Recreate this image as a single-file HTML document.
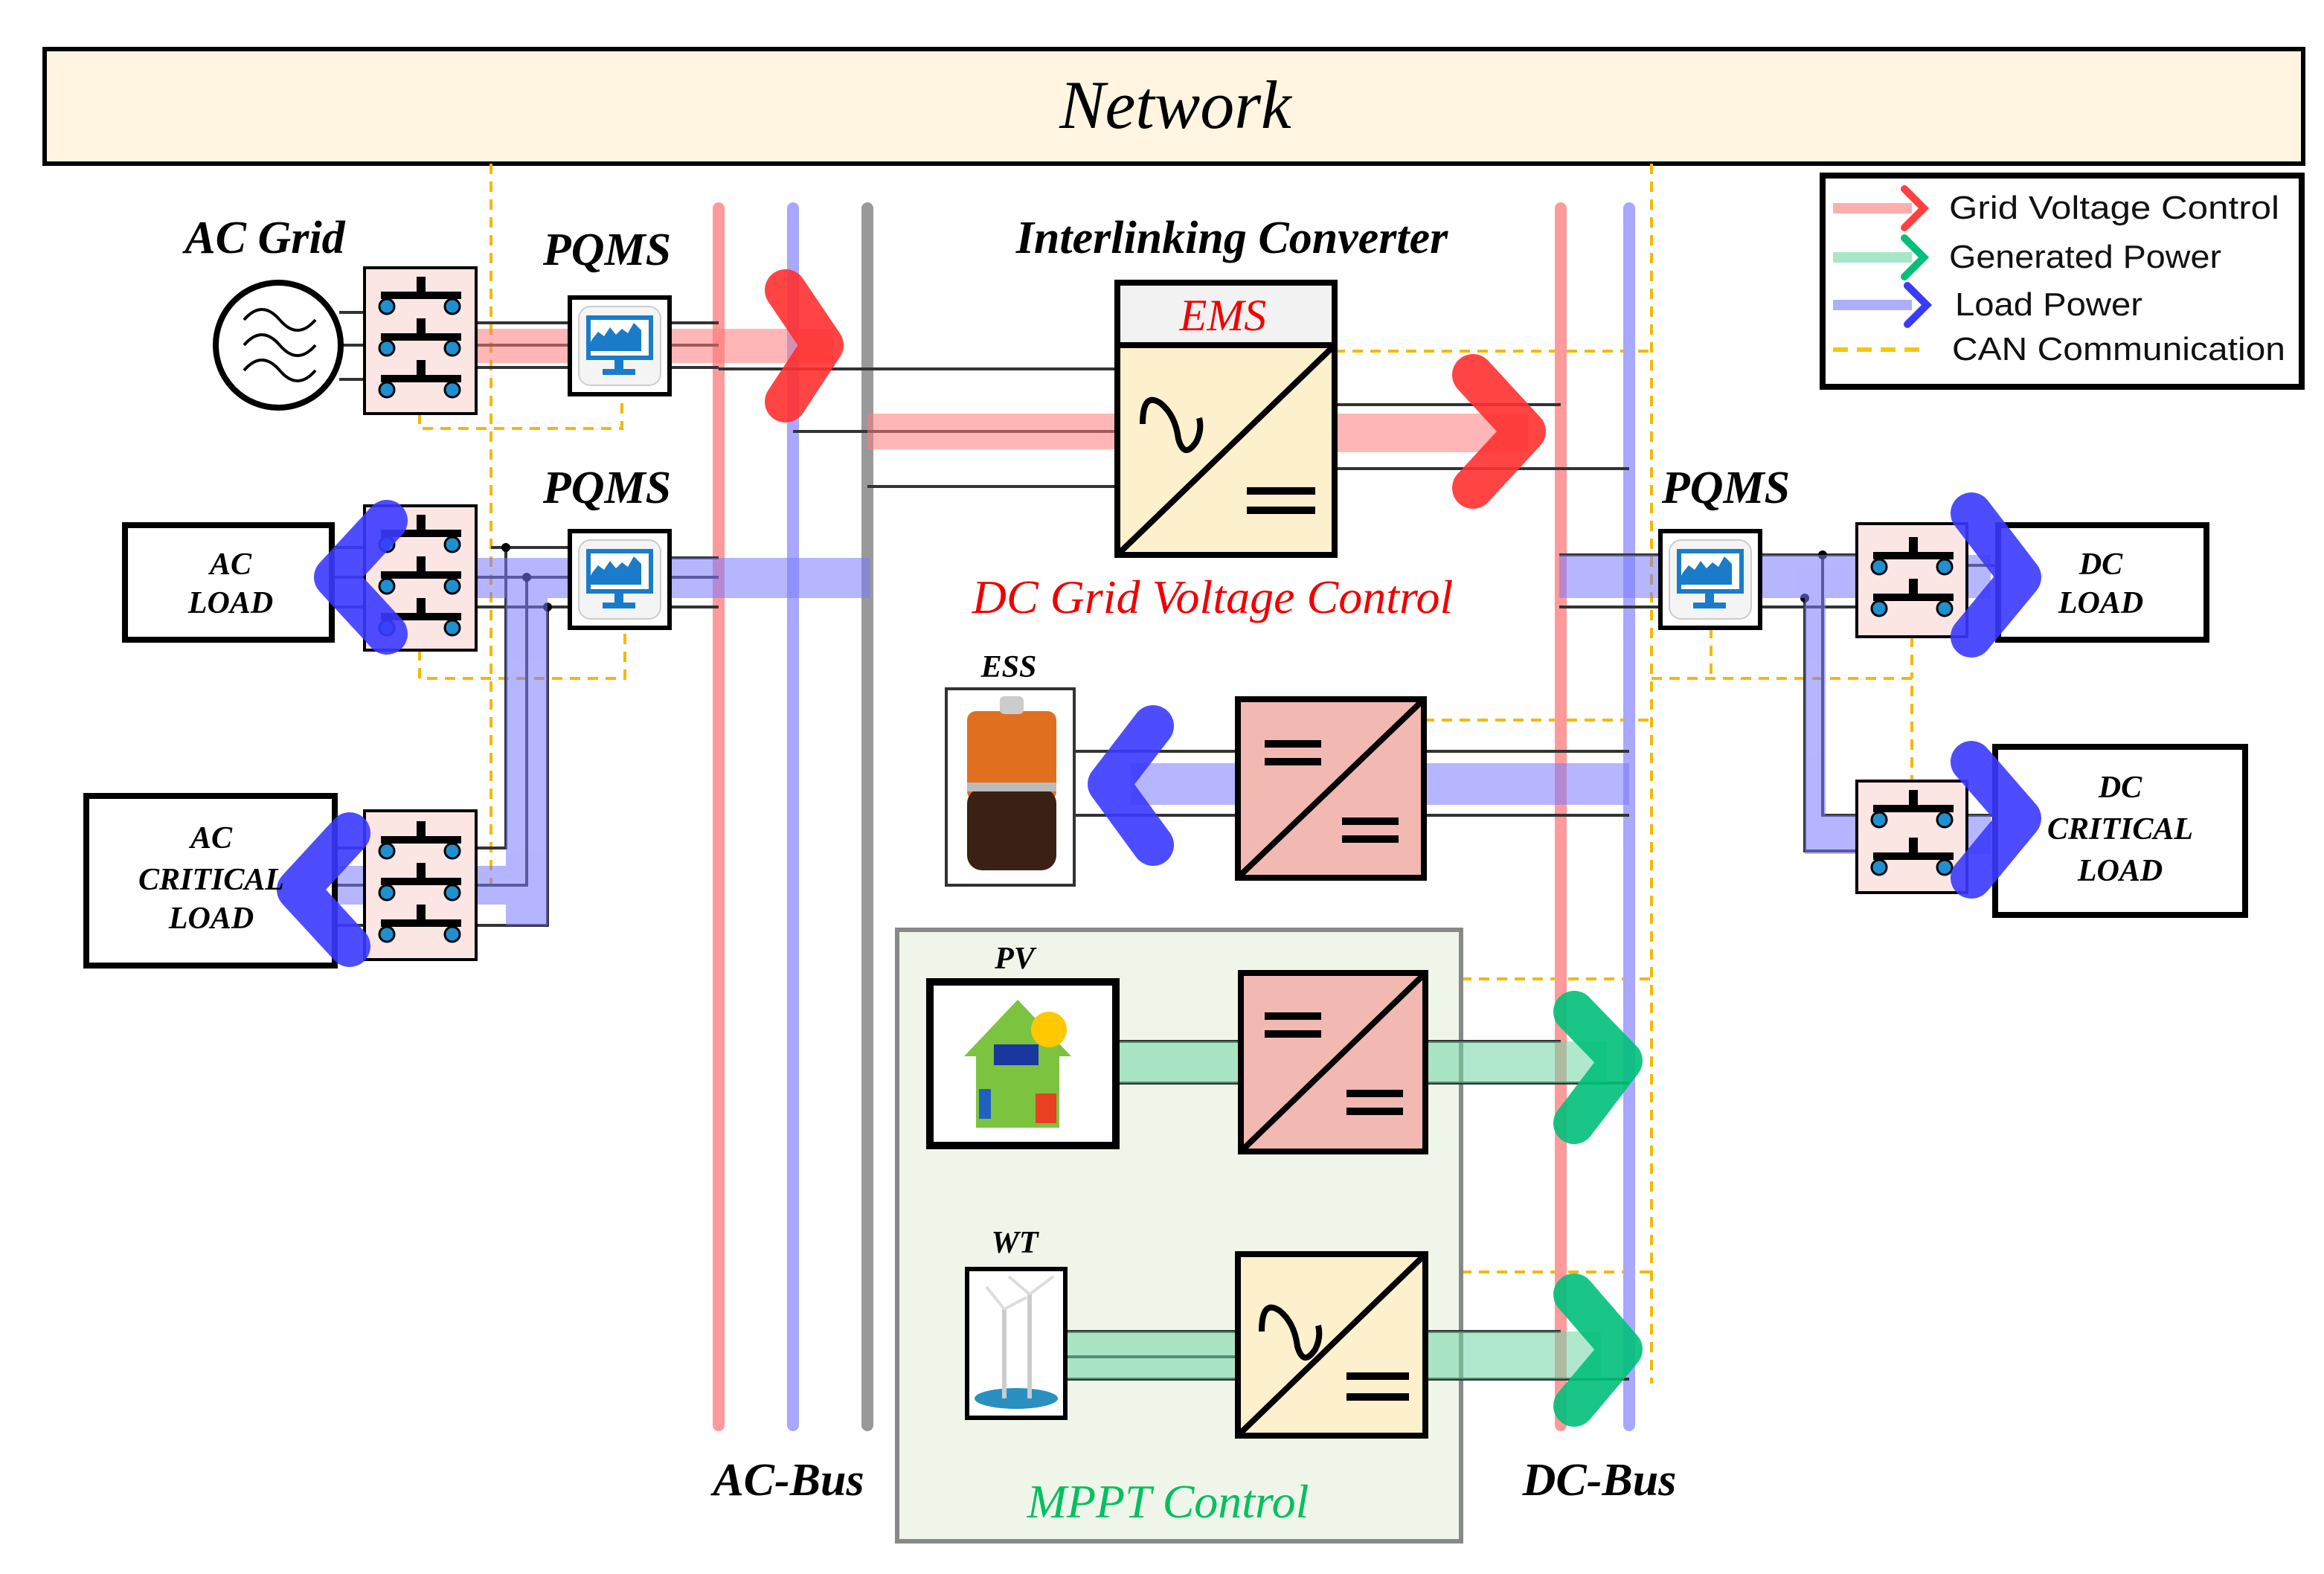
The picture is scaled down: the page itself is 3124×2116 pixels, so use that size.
<!DOCTYPE html>
<html><head><meta charset="utf-8"><style>
html,body{margin:0;padding:0;background:#fff}
svg{display:block}
text{font-family:"Liberation Serif",serif;font-style:italic;font-weight:bold}
text.n{font-weight:normal}
text.s{font-family:"Liberation Sans",sans-serif;font-style:normal;font-weight:normal}
</style></head><body>
<svg width="3124" height="2116" viewBox="0 0 1562 1058" xmlns="http://www.w3.org/2000/svg">
<defs>
<g id="sw">
<rect x="0" y="0" width="6" height="12" fill="#000" transform="translate(34,-14)"/>
<rect x="10" y="-4" width="54" height="5" fill="#000"/>
<circle cx="14" cy="6" r="5" fill="#1e90d0" stroke="#000" stroke-width="1.5"/>
<circle cx="58" cy="6" r="5" fill="#1e90d0" stroke="#000" stroke-width="1.5"/>
</g>
<g id="mon">
<rect x="0" y="0" width="67" height="65" fill="#fff" stroke="#000" stroke-width="3"/>
<rect x="6" y="6" width="55" height="53" rx="8" fill="#f4f4f4" stroke="#ccc"/>
<rect x="11" y="12" width="45" height="30" fill="#1a7cc8"/>
<rect x="14" y="15" width="39" height="24" fill="#fff"/>
<path d="M15 28 l4 -5 4 3 4 -6 4 5 4 -4 4 3 4 -7 5 5 v14 h-37z" fill="#1a7cc8"/>
<rect x="30" y="42" width="6" height="6" fill="#1a7cc8"/>
<rect x="22" y="48" width="22" height="4" fill="#1a7cc8"/>
</g>
</defs>

<rect x="30" y="33" width="1518" height="77" fill="#fff5e1" stroke="#000" stroke-width="3"/>
<text class="n" x="790" y="86" font-size="46" text-anchor="middle">Network</text>

<g stroke="#f5b800" stroke-width="2" stroke-dasharray="7 5" fill="none">
<path d="M330 110 V595 H320"/>
<path d="M282 278 V288 H418 V265"/>
<path d="M282 437 V456 H420 V422"/>
<path d="M1110 110 V930"/>
<path d="M897 236 H1110"/>
<path d="M957 484 H1110"/>
<path d="M958 658 H1110"/>
<path d="M958 855 H1110"/>
<path d="M1110 456 H1285 V525"/>
<path d="M1150 422 V456"/>
<path d="M1285 428 V456"/>
</g>

<line x1="483" y1="140" x2="483" y2="958" stroke="#ff9a9a" stroke-width="8" stroke-linecap="round"/>
<line x1="533" y1="140" x2="533" y2="958" stroke="#a8a8ff" stroke-width="8" stroke-linecap="round"/>
<line x1="583" y1="140" x2="583" y2="958" stroke="#999" stroke-width="8" stroke-linecap="round"/>
<line x1="1049" y1="140" x2="1049" y2="958" stroke="#ff9a9a" stroke-width="8" stroke-linecap="round"/>
<line x1="1095" y1="140" x2="1095" y2="958" stroke="#a8a8ff" stroke-width="8" stroke-linecap="round"/>

<rect x="603" y="625" width="379" height="411" fill="#f0f5ea" stroke="#888" stroke-width="3"/>

<g stroke="#333" stroke-width="2" fill="none">
<path d="M228 210 H245 M230 232 H245 M228 255 H245"/>
<path d="M320 217 H383 M320 232 H383 M320 247 H383"/>
<path d="M450 217 H483 M450 232 H483 M450 247 H483"/>
<path d="M483 248 H750 M533 290 H750 M583 327 H750"/>
<path d="M897 272 H1049 M897 315 H1095"/>
<path d="M223 368 H245 M223 388 H245 M223 408 H245"/>
<path d="M330 368 H383 M320 388 H383 M320 408 H383"/>
<path d="M450 375 H483 M450 388 H483 M450 408 H483"/>
<path d="M340 368 V570 H320 M354 388 V595 H320 M368 408 V622 H320"/>
<path d="M225 570 H245 M225 595 H245 M225 622 H245"/>
<path d="M1048 373 H1116 M1048 408 H1116"/>
<path d="M1183 373 H1248 M1183 408 H1248"/>
<path d="M1213 402 V572 H1248 M1225 373 V548 H1248"/>
<path d="M1322 380 H1343 M1322 548 H1341"/>
<path d="M722 505 H832 M722 548 H832 M957 505 H1095 M957 548 H1095"/>
<path d="M750 700 H834 M750 728 H834 M958 700 H1049 M958 728 H1095"/>
<path d="M716 895 H832 M716 912 H832 M716 927 H832 M958 895 H1049 M958 927 H1095"/>
</g>
<circle cx="340" cy="368" r="3"/><circle cx="354" cy="388" r="3"/><circle cx="368" cy="408" r="3"/>
<circle cx="1225" cy="373" r="3"/><circle cx="1213" cy="402" r="3"/>

<g opacity="0.55">
<rect x="320" y="221" width="240" height="23" fill="#ff7a7a"/>
<rect x="583" y="278" width="168" height="24" fill="#ff7a7a"/>
<rect x="897" y="278" width="130" height="26" fill="#ff7a7a"/>
<rect x="260" y="375" width="325" height="27" fill="#7a7aff"/>
<rect x="340" y="388" width="28" height="234" fill="#7a7aff"/>
<rect x="225" y="582" width="143" height="26" fill="#7a7aff"/>
<rect x="1048" y="373" width="290" height="29" fill="#7a7aff"/>
<rect x="1213" y="388" width="14" height="184" fill="#7a7aff"/>
<rect x="1213" y="548" width="125" height="26" fill="#7a7aff"/>
<rect x="760" y="513" width="335" height="28" fill="#7a7aff"/>
<rect x="750" y="700" width="330" height="28" fill="#6fd6a6"/>
<rect x="716" y="895" width="360" height="32" fill="#6fd6a6"/>
</g>

<circle cx="187" cy="232" r="42" fill="#fff" stroke="#000" stroke-width="4"/>
<g stroke="#000" stroke-width="2" fill="none">
<path d="M164 215 q12 -14 24 0 t24 0"/>
<path d="M164 232 q12 -14 24 0 t24 0"/>
<path d="M164 249 q12 -14 24 0 t24 0"/>
</g>

<g fill="#fbe6e4" stroke="#000" stroke-width="2">
<rect x="245" y="180" width="75" height="98"/>
<rect x="245" y="340" width="75" height="97"/>
<rect x="245" y="545" width="75" height="100"/>
<rect x="1248" y="352" width="74" height="76"/>
<rect x="1248" y="525" width="74" height="75"/>
</g>
<use href="#sw" x="246" y="200"/><use href="#sw" x="246" y="228"/><use href="#sw" x="246" y="256"/>
<use href="#sw" x="246" y="360"/><use href="#sw" x="246" y="388"/><use href="#sw" x="246" y="416"/>
<use href="#sw" x="246" y="566"/><use href="#sw" x="246" y="594"/><use href="#sw" x="246" y="622"/>
<use href="#sw" x="1249" y="375"/><use href="#sw" x="1249" y="403"/>
<use href="#sw" x="1249" y="545"/><use href="#sw" x="1249" y="577"/>

<use href="#mon" x="383" y="200"/><use href="#mon" x="383" y="357"/><use href="#mon" x="1116" y="357"/>

<g fill="#fff" stroke="#000" stroke-width="4">
<rect x="84" y="353" width="139" height="77"/>
<rect x="58" y="535" width="167" height="114"/>
<rect x="1343" y="353" width="140" height="77"/>
<rect x="1341" y="502" width="168" height="113"/>
</g>

<g fill="none" stroke-linecap="round" stroke-linejoin="round" stroke-width="28">
<polyline points="528,195 553,232 528,270" stroke="#ff3030" opacity="0.9"/>
<polyline points="990,252 1025,290 990,328" stroke="#ff3030" opacity="0.9"/>
<polyline points="260,350 225,388 260,426" stroke="#3a3aff" opacity="0.9"/>
<polyline points="235,560 200,598 235,636" stroke="#3a3aff" opacity="0.9"/>
<polyline points="1325,345 1358,388 1325,428" stroke="#3a3aff" opacity="0.9"/>
<polyline points="1325,512 1358,550 1325,590" stroke="#3a3aff" opacity="0.9"/>
<polyline points="775,488 745,527 775,568" stroke="#3a3aff" opacity="0.9"/>
<polyline points="1058,680 1090,713 1058,755" stroke="#00c07a" opacity="0.9"/>
<polyline points="1058,870 1090,907 1058,945" stroke="#00c07a" opacity="0.9"/>
</g>

<g font-size="21" text-anchor="middle">
<text x="155" y="386">AC</text><text x="155" y="412">LOAD</text>
<text x="142" y="570">AC</text><text x="142" y="598">CRITICAL</text><text x="142" y="624">LOAD</text>
<text x="1412" y="386">DC</text><text x="1412" y="412">LOAD</text>
<text x="1425" y="536">DC</text><text x="1425" y="564">CRITICAL</text><text x="1425" y="592">LOAD</text>
</g>

<rect x="751" y="190" width="146" height="42" fill="#f2f2f2" stroke="#000" stroke-width="4"/>
<text class="n" x="822" y="222" font-size="30" fill="#f00000" text-anchor="middle">EMS</text>
<rect x="751" y="232" width="146" height="141" fill="#fdf0cc" stroke="#000" stroke-width="4"/>
<line x1="753" y1="371" x2="895" y2="234" stroke="#000" stroke-width="4"/>
<path d="M768 285 q0 -22 12 -14 q10 8 12 24 q4 14 12 2 q4 -8 2 -16" stroke="#000" stroke-width="4" fill="none"/>
<path d="M838 330 h46 M838 343 h46" stroke="#000" stroke-width="5"/>

<rect x="636" y="463" width="86" height="132" fill="#fff" stroke="#333" stroke-width="2"/>
<rect x="650" y="478" width="60" height="60" rx="6" fill="#e07020"/>
<rect x="650" y="530" width="60" height="55" rx="10" fill="#3a2015"/>
<rect x="650" y="526" width="60" height="6" fill="#bbb"/>
<rect x="672" y="468" width="16" height="12" rx="3" fill="#ccc"/>
<rect x="832" y="470" width="125" height="120" fill="#f2b8b2" stroke="#000" stroke-width="4"/>
<line x1="834" y1="588" x2="955" y2="472" stroke="#000" stroke-width="4"/>
<path d="M850 500 h38 M850 512 h38 M902 552 h38 M902 564 h38" stroke="#000" stroke-width="5"/>

<rect x="625" y="660" width="125" height="110" fill="#fff" stroke="#000" stroke-width="5"/>
<path d="M648 710 l36 -38 36 38 h-8 v48 h-56 v-48z" fill="#7cc440"/>
<circle cx="705" cy="692" r="12" fill="#ffc800"/>
<rect x="668" y="702" width="30" height="14" fill="#1838a0"/>
<rect x="696" y="735" width="14" height="20" fill="#e84020"/>
<rect x="658" y="732" width="8" height="20" fill="#2060c0"/>
<rect x="834" y="654" width="124" height="120" fill="#f2b8b2" stroke="#000" stroke-width="4"/>
<line x1="836" y1="772" x2="956" y2="656" stroke="#000" stroke-width="4"/>
<path d="M850 683 h38 M850 695 h38 M905 735 h38 M905 747 h38" stroke="#000" stroke-width="5"/>

<rect x="650" y="853" width="66" height="100" fill="#fff" stroke="#000" stroke-width="3"/>
<ellipse cx="683" cy="940" rx="28" ry="7" fill="#2a90c0"/>
<path d="M675 940 V880 M692 940 V870" stroke="#ccc" stroke-width="3"/>
<path d="M675 880 l-12 -15 M675 880 l15 -8 M692 870 l-14 -12 M692 870 l16 -12" stroke="#ddd" stroke-width="2"/>
<rect x="832" y="843" width="126" height="122" fill="#fdf0cc" stroke="#000" stroke-width="4"/>
<line x1="834" y1="963" x2="956" y2="845" stroke="#000" stroke-width="4"/>
<path d="M848 895 q0 -22 12 -14 q10 8 12 24 q4 14 12 2 q4 -8 2 -16" stroke="#000" stroke-width="4" fill="none"/>
<path d="M905 925 h42 M905 939 h42" stroke="#000" stroke-width="5"/>

<g font-size="31" text-anchor="middle">
<text x="178" y="170">AC Grid</text>
<text x="408" y="178">PQMS</text>
<text x="408" y="338">PQMS</text>
<text x="1160" y="338">PQMS</text>
<text x="828" y="170">Interlinking Converter</text>
<text x="530" y="1005">AC-Bus</text>
<text x="1075" y="1005">DC-Bus</text>
</g>
<text class="n" x="815" y="412" font-size="32" text-anchor="middle" fill="#f00000">DC Grid Voltage Control</text>
<text class="n" x="785" y="1020" font-size="32" text-anchor="middle" fill="#00c060">MPPT Control</text>
<g font-size="21" text-anchor="middle">
<text x="678" y="455">ESS</text>
<text x="682" y="651">PV</text>
<text x="682" y="842">WT</text>
</g>

<rect x="1225" y="118" width="322" height="142" fill="#fff" stroke="#000" stroke-width="4"/>
<g stroke-width="7" opacity="0.6">
<line x1="1232" y1="140" x2="1285" y2="140" stroke="#ff7a7a"/>
<line x1="1232" y1="173" x2="1285" y2="173" stroke="#6fd6a6"/>
<line x1="1232" y1="205" x2="1285" y2="205" stroke="#7a7aff"/>
</g>
<g fill="none" stroke-width="5" stroke-linecap="round">
<polyline points="1280,127 1293,140 1280,153" stroke="#ff4040"/>
<polyline points="1280,160 1293,173 1280,186" stroke="#00c07a"/>
<polyline points="1282,192 1295,205 1282,218" stroke="#3a3aff"/>
</g>
<line x1="1232" y1="235" x2="1295" y2="235" stroke="#f5c800" stroke-width="3" stroke-dasharray="10 6"/>
<g font-size="22" fill="#111">
<text class="s" x="1310" y="147" textLength="222" lengthAdjust="spacingAndGlyphs">Grid Voltage Control</text>
<text class="s" x="1310" y="180" textLength="183" lengthAdjust="spacingAndGlyphs">Generated Power</text>
<text class="s" x="1314" y="212" textLength="126" lengthAdjust="spacingAndGlyphs">Load Power</text>
<text class="s" x="1312" y="242" textLength="224" lengthAdjust="spacingAndGlyphs">CAN Communication</text>
</g>
</svg>
</body></html>
